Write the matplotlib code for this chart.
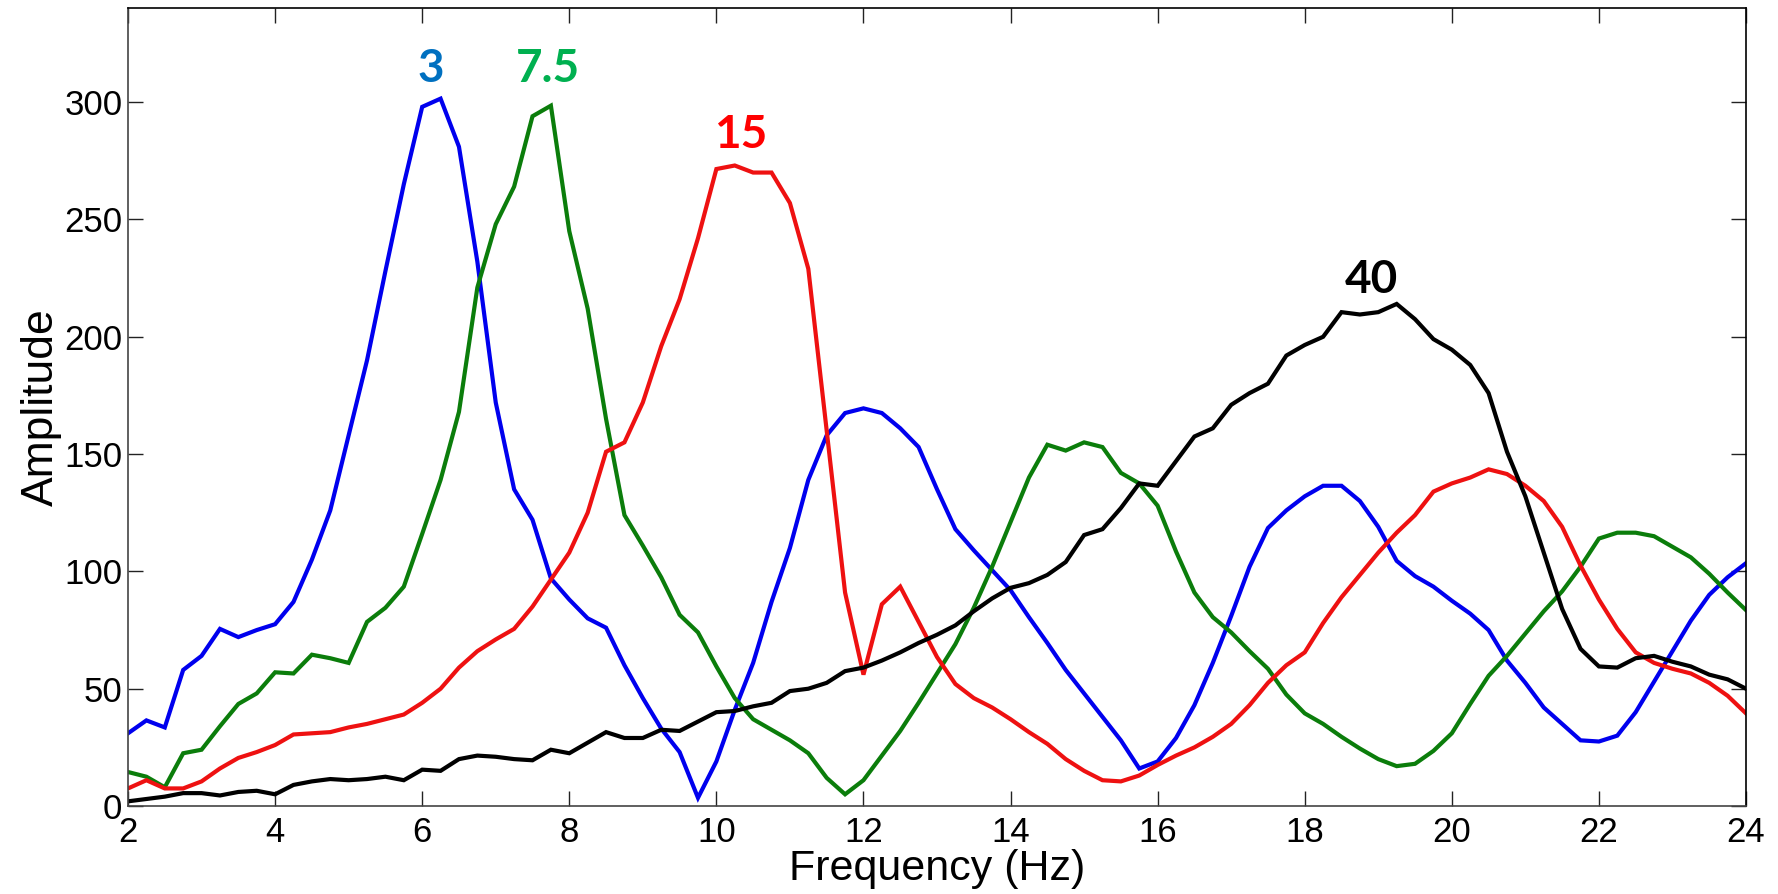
import numpy as np
import matplotlib.pyplot as plt

# frequency grid (Hz)
freq = np.arange(2.0, 24.01, 0.25)

amp_3 = [31, 36.5, 33.5, 58, 64, 75.5, 72, 75, 77.5, 87, 105, 126, 158, 190, 228, 265,
         298, 301.5, 281, 232, 172, 135, 122, 97, 88, 80, 76, 60, 46, 33, 23, 3.5,
         19, 41, 61, 87, 110, 139, 158, 167.5, 169.5, 167.5, 161, 153, 135, 118, 109, 100.5,
         92, 80.5, 69.5, 58, 48, 38, 28, 16, 19, 29, 43, 61, 81, 102, 118.5, 126,
         132, 136.5, 136.5, 130, 119, 104.5, 98, 93.5, 87.5, 82, 75, 62, 52.5, 42, 35, 28,
         27.5, 30, 40, 53, 66, 79, 90, 97.5, 103.5]

amp_7_5 = [14.5, 12.5, 8, 22.5, 24, 34, 43.5, 48, 57, 56.5, 64.5, 63, 61, 78.5, 84.5, 93.5,
           116, 139, 168, 221, 248, 264, 294, 298.5, 245, 212, 165, 124, 111, 97.5, 81.5, 74,
           59.5, 46, 37, 32.5, 28, 22.5, 12, 5, 11, 21.5, 32, 44, 56.5, 69, 84.5, 102,
           121, 140, 154, 151.5, 155, 153, 142, 137.5, 128, 108.5, 91, 80.5, 74, 66, 58.5, 47.5,
           39.5, 35, 29.5, 24.5, 20, 17, 18, 23.5, 31, 43.5, 55.5, 64, 73.5, 83, 91.5, 102,
           114, 116.5, 116.5, 115, 110.5, 106, 99, 91, 83.5]

amp_15 = [7.5, 11, 7.5, 7.5, 10.5, 16, 20.5, 23, 26, 30.5, 31, 31.5, 33.5, 35, 37, 39,
          44, 50, 59, 66, 71, 75.5, 85, 96.5, 108, 125, 151, 155, 172, 196, 216, 242,
          271.5, 273, 270, 270, 257, 229, 160, 91, 56, 86, 93.5, 78.5, 63.5, 52, 46, 42,
          37, 31.5, 26.5, 20, 15, 11, 10.5, 13, 17.5, 21.5, 25, 29.5, 35, 43, 52.5, 60,
          65.5, 78, 89, 98.5, 108, 116.5, 124, 134, 137.5, 140, 143.5, 141.5, 136.5, 130, 119, 102.5,
          88, 75.5, 65.5, 61, 58.5, 56.5, 52.5, 47, 39.5]

amp_40 = [2, 3, 4, 5.5, 5.5, 4.5, 6, 6.5, 5, 9, 10.5, 11.5, 11, 11.5, 12.5, 11,
          15.5, 15, 20, 21.5, 21, 20, 19.5, 24, 22.5, 27, 31.5, 29, 29, 32.5, 32, 36,
          40, 40.5, 42.5, 44, 49, 50, 52.5, 57.5, 59, 62, 65.5, 69.5, 73, 77, 83, 88.5,
          93, 95, 98.5, 104, 115.5, 118, 127, 137.5, 136.5, 147, 157.5, 161, 171, 176, 180, 192,
          196.5, 200, 210.5, 209.5, 210.5, 214, 207.5, 199, 194.5, 188, 176, 151, 132, 108, 84, 67,
          59.5, 59, 63, 64, 61.5, 59.5, 56, 54, 50]

names = ['3', '7.5', '15', '40']
line_colors = ['#0000ee', '#0b7d0b', '#ee1111', '#000000']
text_colors = ['#0070c0', '#00b050', '#ff0000', '#000000']
label_x = [6.11, 7.71, 10.33, 18.91]
label_y = [314, 314, 286, 224]

fig = plt.figure(figsize=(17.78, 8.94), dpi=100)
ax = fig.add_axes([0.072, 0.0984, 0.910, 0.8923])

for amp, c in zip([amp_3, amp_7_5, amp_15, amp_40], line_colors):
    ax.plot(freq, amp, color=c, lw=3.0, solid_joinstyle='miter')

for name, x, y, c in zip(names, label_x, label_y, text_colors):
    ax.text(x, y, name, color=c, fontsize=33, fontweight='bold', family='Lato',
            ha='center', va='center')

ax.set_xlim(2, 24)
ax.set_ylim(0, 340)
ax.set_xticks(np.arange(2, 25, 2))
ax.set_yticks(np.arange(0, 301, 50))
ax.tick_params(direction='in', length=11, width=1.0, top=True, right=True,
               labelsize=25, colors='#222222')
ax.tick_params(axis='x', pad=7)
ax.tick_params(axis='y', pad=4)
for lab in ax.get_xticklabels() + ax.get_yticklabels():
    lab.set_family('Liberation Sans')
    lab.set_color('black')
for s in ax.spines.values():
    s.set_linewidth(1.2)
ax.spines['left'].set_color('#444444')
ax.spines['bottom'].set_color('#444444')

ax.set_xlabel('Frequency (Hz)', fontsize=31, family='Liberation Sans', labelpad=0)
ax.set_ylabel('Amplitude', fontsize=32, family='Liberation Sans', labelpad=2)

fig.savefig('out.png', dpi=100)
